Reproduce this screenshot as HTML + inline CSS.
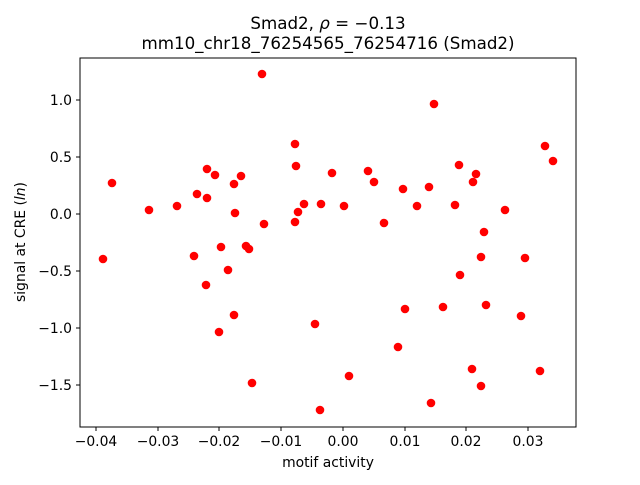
<!DOCTYPE html>
<html><head><meta charset="utf-8"><style>body{margin:0;background:#fff}</style></head><body>
<svg width="640" height="480" xmlns="http://www.w3.org/2000/svg" font-family="DejaVu Sans, Liberation Sans, sans-serif">
<rect width="640" height="480" fill="#fff"/>
<g fill="#ff0000">
<circle cx="103" cy="259" r="4.3"/><circle cx="112" cy="183" r="4.3"/><circle cx="149" cy="210" r="4.3"/><circle cx="177" cy="206" r="4.3"/><circle cx="194" cy="256" r="4.3"/><circle cx="197" cy="194" r="4.3"/><circle cx="206" cy="285" r="4.3"/><circle cx="207" cy="198" r="4.3"/><circle cx="207" cy="169" r="4.3"/><circle cx="215" cy="175" r="4.3"/><circle cx="219" cy="332" r="4.3"/><circle cx="221" cy="247" r="4.3"/><circle cx="228" cy="270" r="4.3"/><circle cx="235" cy="213" r="4.3"/><circle cx="234" cy="315" r="4.3"/><circle cx="234" cy="184" r="4.3"/><circle cx="241" cy="176" r="4.3"/><circle cx="246" cy="246" r="4.3"/><circle cx="249" cy="249" r="4.3"/><circle cx="252" cy="383" r="4.3"/><circle cx="262" cy="74" r="4.3"/><circle cx="264" cy="224" r="4.3"/><circle cx="295" cy="144" r="4.3"/><circle cx="296" cy="166" r="4.3"/><circle cx="295" cy="222" r="4.3"/><circle cx="298" cy="212" r="4.3"/><circle cx="304" cy="204" r="4.3"/><circle cx="315" cy="324" r="4.3"/><circle cx="321" cy="204" r="4.3"/><circle cx="320" cy="410" r="4.3"/><circle cx="332" cy="173" r="4.3"/><circle cx="344" cy="206" r="4.3"/><circle cx="349" cy="376" r="4.3"/><circle cx="368" cy="171" r="4.3"/><circle cx="374" cy="182" r="4.3"/><circle cx="384" cy="223" r="4.3"/><circle cx="398" cy="347" r="4.3"/><circle cx="403" cy="189" r="4.3"/><circle cx="405" cy="309" r="4.3"/><circle cx="417" cy="206" r="4.3"/><circle cx="429" cy="187" r="4.3"/><circle cx="431" cy="403" r="4.3"/><circle cx="434" cy="104" r="4.3"/><circle cx="443" cy="307" r="4.3"/><circle cx="455" cy="205" r="4.3"/><circle cx="459" cy="165" r="4.3"/><circle cx="460" cy="275" r="4.3"/><circle cx="472" cy="369" r="4.3"/><circle cx="473" cy="182" r="4.3"/><circle cx="476" cy="174" r="4.3"/><circle cx="481" cy="257" r="4.3"/><circle cx="481" cy="386" r="4.3"/><circle cx="484" cy="232" r="4.3"/><circle cx="486" cy="305" r="4.3"/><circle cx="505" cy="210" r="4.3"/><circle cx="521" cy="316" r="4.3"/><circle cx="525" cy="258" r="4.3"/><circle cx="540" cy="371" r="4.3"/><circle cx="545" cy="146" r="4.3"/><circle cx="553" cy="161" r="4.3"/>
</g>
<rect x="80" y="58" width="496" height="369" fill="none" stroke="#000" stroke-width="1"/>
<g stroke="#000" stroke-width="1">
<line x1="96" y1="427" x2="96" y2="431"/><line x1="158" y1="427" x2="158" y2="431"/><line x1="219" y1="427" x2="219" y2="431"/><line x1="281" y1="427" x2="281" y2="431"/><line x1="343" y1="427" x2="343" y2="431"/><line x1="405" y1="427" x2="405" y2="431"/><line x1="466" y1="427" x2="466" y2="431"/><line x1="528" y1="427" x2="528" y2="431"/>
<line x1="76" y1="100" x2="80" y2="100"/><line x1="76" y1="157" x2="80" y2="157"/><line x1="76" y1="214" x2="80" y2="214"/><line x1="76" y1="271" x2="80" y2="271"/><line x1="76" y1="328" x2="80" y2="328"/><line x1="76" y1="385" x2="80" y2="385"/>
</g>
<g font-size="13.9" text-anchor="middle" fill="#000">
<text x="96" y="446">−0.04</text><text x="158" y="446">−0.03</text><text x="219" y="446">−0.02</text><text x="281" y="446">−0.01</text><text x="343" y="446">0.00</text><text x="405" y="446">0.01</text><text x="466" y="446">0.02</text><text x="528" y="446">0.03</text>
</g>
<g font-size="13.9" text-anchor="end" fill="#000">
<text x="72" y="105">1.0</text><text x="72" y="162">0.5</text><text x="72" y="219">0.0</text><text x="72" y="276">−0.5</text><text x="72" y="333">−1.0</text><text x="72" y="390">−1.5</text>
</g>
<text x="328" y="467" font-size="13.9" text-anchor="middle">motif activity</text>
<text transform="translate(25,242) rotate(-90)" font-size="13.9" text-anchor="middle">signal at CRE (<tspan font-style="italic">ln</tspan>)</text>
<text x="328" y="29" font-size="16.7" text-anchor="middle">Smad2, <tspan font-style="italic">ρ</tspan> = −0.13</text>
<text x="328" y="49" font-size="16.7" text-anchor="middle">mm10_chr18_76254565_76254716 (Smad2)</text>
</svg>
</body></html>
